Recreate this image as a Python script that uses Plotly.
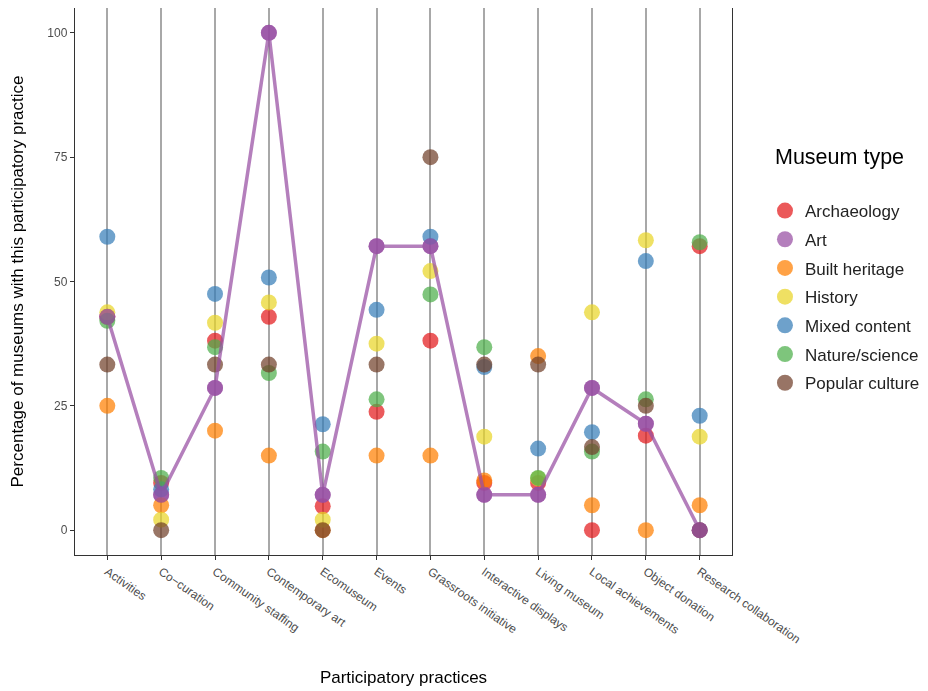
import plotly.graph_objects as go

# participatory practices (x categories)
practices = ["Activities", "Co\u2212curation", "Community staffing", "Contemporary art",
             "Ecomuseum", "Events", "Grassroots initiative", "Interactive displays",
             "Living museum", "Local achievements", "Object donation", "Research collaboration"]

museum_types = ["Archaeology", "Art", "Built heritage", "History",
                "Mixed content", "Nature/science", "Popular culture"]

# percentage of museums with each practice, per museum type
archaeology     = [42.9, 9.5, 38.1, 42.9, 4.8, 23.8, 38.1, 9.5, 9.5, 0.0, 19.0, 57.1]
art             = [42.9, 7.1, 28.6, 100.0, 7.1, 57.1, 57.1, 7.1, 7.1, 28.6, 21.4, 0.0]
built_heritage  = [25.0, 5.0, 20.0, 15.0, 0.0, 15.0, 15.0, 10.0, 35.0, 5.0, 0.0, 5.0]
history         = [43.8, 2.1, 41.7, 45.8, 2.1, 37.5, 52.1, 18.8, 10.4, 43.8, 58.3, 18.8]
mixed_content   = [59.0, 8.2, 47.5, 50.8, 21.3, 44.3, 59.0, 32.8, 16.4, 19.7, 54.1, 23.0]
nature_science  = [42.1, 10.5, 36.8, 31.6, 15.8, 26.3, 47.4, 36.8, 10.5, 15.8, 26.3, 57.9]
popular_culture = [33.3, 0.0, 33.3, 33.3, 0.0, 33.3, 75.0, 33.3, 33.3, 16.7, 25.0, 0.0]

series = [archaeology, art, built_heritage, history, mixed_content, nature_science, popular_culture]
colors = ["#E41A1C", "#984EA3", "#FF7F00", "#E9D528", "#377EB8", "#4DAF4A", "#71402B"]

fig = go.Figure()

for name, vals, col in zip(museum_types, series, colors):
    fig.add_trace(go.Scatter(
        x=practices, y=vals, mode="markers", name=name, legendgroup=name,
        marker=dict(color=col, size=16, line=dict(width=0)),
        opacity=0.72,
    ))

# art line on top
fig.add_trace(go.Scatter(
    x=practices, y=art, mode="lines+markers", showlegend=False, legendgroup="Art",
    line=dict(color="#984EA3", width=3.5),
    marker=dict(color="#984EA3", size=16),
    opacity=0.72, hoverinfo="skip",
))

# page body has an 8px margin, so the figure is 8px smaller
fig.update_layout(
    width=920, height=683,
    paper_bgcolor="white", plot_bgcolor="white",
    margin=dict(l=67, r=196, t=0, b=136),
    font=dict(family="Liberation Sans, Arial, sans-serif", color="#000000"),
    legend=dict(
        font=dict(size=17, color="#222222"),
        x=1.0502, xanchor="left", y=0.6618, yanchor="top",
        tracegroupgap=3.6, itemsizing="trace",
    ),
    annotations=[dict(
        text="Museum type", x=1.0624, y=0.7276, xref="paper", yref="paper",
        xanchor="left", yanchor="middle", showarrow=False,
        font=dict(size=21.5, color="#000000"),
    )],
)

fig.update_xaxes(
    type="category", categoryorder="array", categoryarray=practices,
    range=[-0.6, 11.6],
    showgrid=True, gridcolor="#A8A8A8", gridwidth=1.5,
    showline=True, linecolor="#333333", linewidth=1.4, mirror=True,
    ticks="outside", ticklen=4, tickcolor="#333333",
    tickangle=35, tickfont=dict(size=12, color="#4D4D4D"),
    title=dict(text="Participatory practices", font=dict(size=17), standoff=25),
    zeroline=False,
)
fig.update_yaxes(
    range=[-5, 105], tickvals=[0, 25, 50, 75, 100],
    showgrid=False,
    showline=True, linecolor="#333333", linewidth=1.4, mirror=True,
    ticks="outside", ticklen=4, tickcolor="#333333",
    tickfont=dict(size=12, color="#4D4D4D"),
    title=dict(text="Percentage of museums with this participatory practice",
               font=dict(size=17), standoff=20),
    zeroline=False,
)

fig.write_html("out.html")
